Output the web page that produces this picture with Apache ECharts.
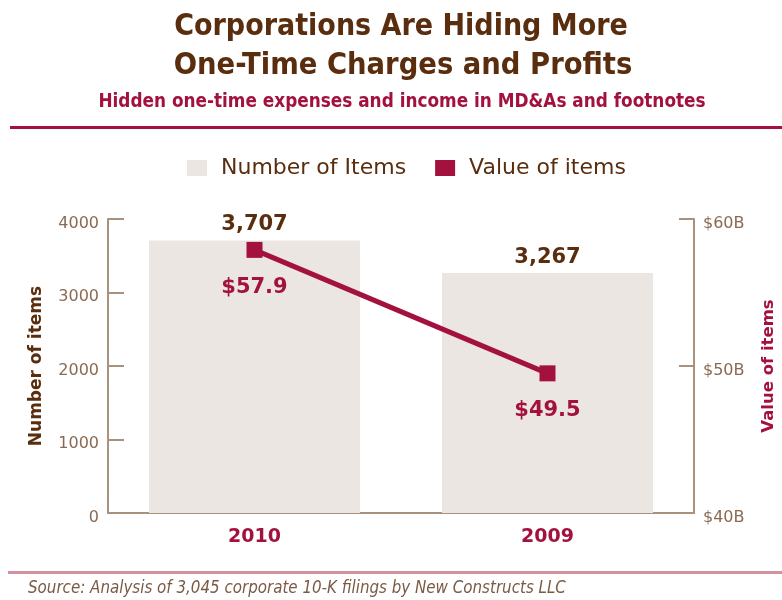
<!DOCTYPE html>
<html>
<head>
<meta charset="utf-8">
<script src="https://cdn.jsdelivr.net/npm/echarts@6/dist/echarts.min.js"></script>
<style>
  html, body { margin: 0; padding: 0; background: #fff; }
  #main { width: 782px; height: 600px; }
</style>
</head>
<body>
<div id="main"></div>
<script>
// data
const years = ['2010', '2009'];
const itemCounts = [3707, 3267];
const itemValues = [57.9, 49.5];

const brown = '#5a2d0e';
const tickBrown = '#8a6a52';
const crimson = '#a3123e';
const axisColor = '#a8917d';
const barColor = '#ebe6e2';
const narrow = '"DejaVu Sans Condensed", "DejaVu Sans", sans-serif';
const body = '"DejaVu Sans", sans-serif';

// tick labels sit a little below their ticks in the original
const tickRich = { t: { fontFamily: body, fontSize: 16, color: tickBrown, padding: [9, 0, 0, 0] } };

const chart = echarts.init(document.getElementById('main'));

chart.setOption({
    animation: false,
    legend: {
        top: 157,
        left: 187,
        padding: 0,
        itemWidth: 20,
        itemHeight: 16,
        itemGap: 29,
        icon: 'rect',
        textStyle: { fontFamily: body, fontSize: 22, color: brown, padding: [0, 0, 0, 9] }
    },
    grid: { left: 108, right: 88, top: 219, bottom: 87, outerBoundsMode: 'none' },
    xAxis: {
        type: 'category',
        data: years,
        axisLine: { lineStyle: { color: axisColor, width: 2 } },
        axisTick: { show: false },
        axisLabel: { fontFamily: body, fontSize: 19, fontWeight: 'bold', color: crimson, margin: 15 }
    },
    yAxis: [
        {
            type: 'value',
            min: 0, max: 4000, interval: 1000,
            name: 'Number of items',
            nameLocation: 'middle',
            nameRotate: 90,
            nameGap: 63,
            nameTextStyle: { fontFamily: body, fontSize: 17, fontWeight: 'bold', color: brown },
            axisLine: { show: true, lineStyle: { color: axisColor, width: 2 } },
            axisTick: { show: true, inside: true, length: 16, lineStyle: { color: axisColor, width: 2 } },
            axisLabel: { margin: 9, formatter: v => '{t|' + v + '}', rich: tickRich },
            splitLine: { show: false }
        },
        {
            type: 'value',
            min: 40, max: 60, interval: 10,
            name: 'Value of items',
            nameLocation: 'middle',
            nameRotate: 90,
            nameGap: 66,
            nameTextStyle: { fontFamily: body, fontSize: 16.5, fontWeight: 'bold', color: crimson },
            axisLine: { show: true, lineStyle: { color: axisColor, width: 2 } },
            axisTick: { show: true, inside: true, length: 15, lineStyle: { color: axisColor, width: 2 } },
            axisLabel: { margin: 9, formatter: v => '{t|$' + v + 'B}', rich: tickRich },
            splitLine: { show: false }
        }
    ],
    series: [
        {
            name: 'Number of Items',
            type: 'bar',
            data: itemCounts,
            barWidth: '72%',
            itemStyle: { color: barColor },
            label: {
                show: true,
                position: 'top',
                distance: 5,
                fontFamily: body,
                fontSize: 21,
                fontWeight: 'bold',
                color: brown,
                formatter: p => p.value.toLocaleString('en-US')
            }
        },
        {
            name: 'Value of items',
            type: 'line',
            yAxisIndex: 1,
            data: itemValues,
            symbol: 'rect',
            symbolSize: 16,
            lineStyle: { color: crimson, width: 5 },
            itemStyle: { color: crimson },
            label: {
                show: true,
                position: 'bottom',
                distance: 19,
                fontFamily: body,
                fontSize: 21,
                fontWeight: 'bold',
                color: crimson,
                formatter: '${c}'
            }
        }
    ],
    graphic: [
        {
            type: 'text', x: 401, y: 27,
            style: {
                text: 'Corporations Are Hiding More', textAlign: 'center', textVerticalAlign: 'middle',
                fontFamily: narrow, fontSize: 30, fontWeight: 'bold', fill: brown
            }
        },
        {
            type: 'text', x: 403, y: 66,
            style: {
                text: 'One-Time Charges and Profits', textAlign: 'center', textVerticalAlign: 'middle',
                fontFamily: narrow, fontSize: 30.5, fontWeight: 'bold', fill: brown
            }
        },
        {
            type: 'text', x: 402, y: 102,
            style: {
                text: 'Hidden one-time expenses and income in MD&As and footnotes',
                textAlign: 'center', textVerticalAlign: 'middle',
                fontFamily: narrow, fontSize: 18.8, fontWeight: 'bold', fill: crimson
            }
        },
        { type: 'rect', shape: { x: 10, y: 126, width: 772, height: 3 }, style: { fill: crimson } },
        { type: 'rect', shape: { x: 8, y: 571, width: 774, height: 3 }, style: { fill: '#d6909f' } },
        {
            type: 'text', x: 28, y: 589,
            style: {
                text: 'Source: Analysis of 3,045 corporate 10-K filings by New Constructs LLC',
                textVerticalAlign: 'middle',
                fontFamily: narrow, fontSize: 16.8, fontStyle: 'italic', fill: '#7a5a44'
            }
        }
    ]
});
</script>
</body>
</html>
